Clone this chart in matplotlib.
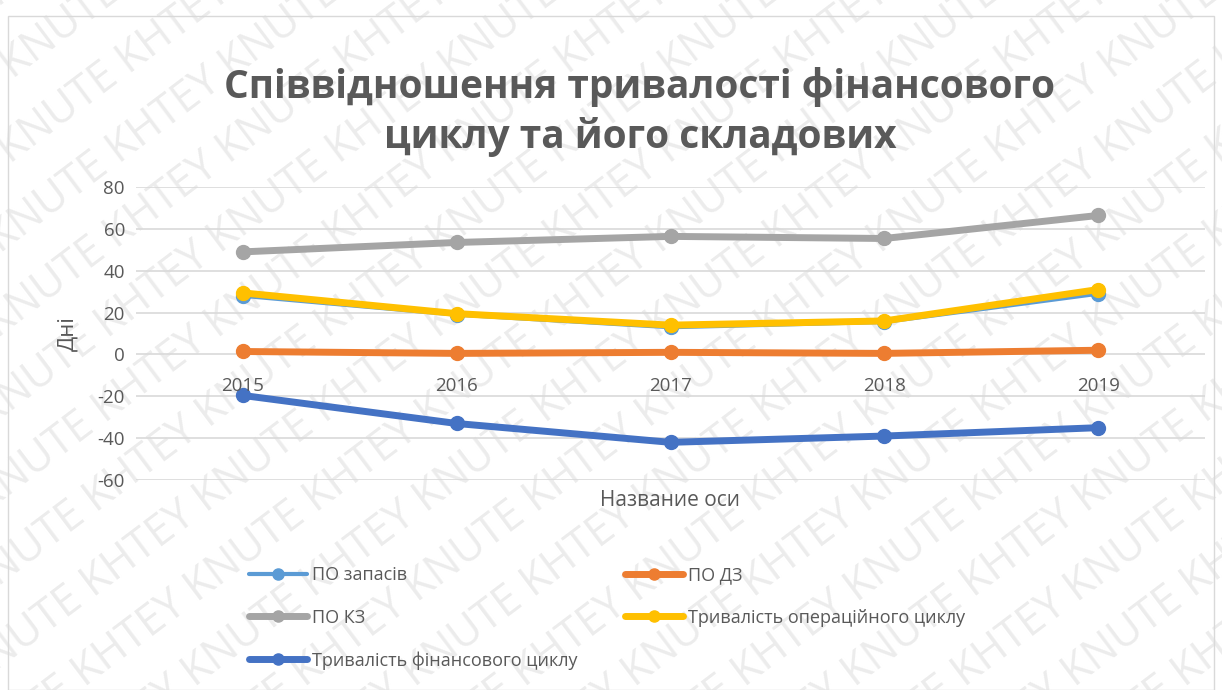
import matplotlib
matplotlib.use("Agg")
import matplotlib.pyplot as plt
import numpy as np

years = ["2015", "2016", "2017", "2018", "2019"]
po_zapasiv = [28, 19, 13, 15.5, 29]
po_dz = [1.4, 0.5, 1, 0.5, 2]
po_kz = [49, 53.5, 56.4, 55.4, 66.4]
oper_cycle = [29.4, 19.5, 14, 16, 31]
fin_cycle = [-19.6, -33, -42, -39, -35]

series = [
    ("ПО запасів", po_zapasiv, "#5b9bd5", 3.0),
    ("ПО ДЗ", po_dz, "#ed7d31", 5.0),
    ("ПО КЗ", po_kz, "#a5a5a5", 5.0),
    ("Тривалість операційного циклу", oper_cycle, "#ffc000", 5.0),
    ("Тривалість фінансового циклу", fin_cycle, "#4472c4", 5.0),
]

plt.rcParams['font.family'] = ['Open Sans', 'Noto Sans', 'DejaVu Sans']
plt.rcParams['axes.unicode_minus'] = False
text_color = "#595959"

fig = plt.figure(figsize=(12.22, 6.9), dpi=100)

# watermark
for i in range(-10, 18):
    fig.text(i * 0.09 - 0.3, -0.25, ("KNUTE KHTEY " if i % 2 else "KHTEY KNUTE ") * 6,
             rotation=37, rotation_mode="anchor", fontsize=31, color="#ececec",
             ha="left", va="baseline", zorder=0)

# chart border
fig.patches.append(plt.Rectangle((8 / 1222, 0), 1 - 16 / 1222, 1 - 16 / 690,
                                 transform=fig.transFigure, fill=False,
                                 edgecolor="#d9d9d9", linewidth=1, zorder=1))

ax = fig.add_axes([136 / 1222, 1 - 480 / 690, (1205 - 136) / 1222, (480 - 187) / 690])
ax.patch.set_alpha(0)
ax.set_zorder(5)

x = np.arange(len(years))
for name, vals, col, lw in series:
    ax.plot(x, vals, color=col, linewidth=lw, marker="o", markersize=10,
            label=name, zorder=3, solid_capstyle="round")

ax.set_xlim(-0.5, len(years) - 0.5)
ax.set_ylim(-60, 80)
ax.set_yticks(range(-60, 81, 20))
ax.yaxis.grid(True, color="#d9d9d9", linewidth=1.2)
ax.set_axisbelow(True)
for s in ax.spines.values():
    s.set_visible(False)
ax.tick_params(axis="y", length=0, labelsize=13.5, colors=text_color, pad=8)
ax.set_xticks([])
for xi, yr in zip(x, years):
    ax.text(xi, -11, yr, ha="center", va="top", fontsize=13.5, color=text_color)

ax.set_ylabel("Дні", fontsize=16, color=text_color, labelpad=14)
fig.text(670 / 1222, 1 - 500 / 690, "Название оси", ha="center", va="center",
         fontsize=15, color=text_color, zorder=6)

fig.text(640 / 1222, 1 - 112 / 690, "Співвідношення тривалості фінансового\nциклу та його складових",
         ha="center", va="center", fontsize=28, fontweight="bold", color=text_color,
         linespacing=1.3, zorder=6)

handles, labels = ax.get_legend_handles_labels()
order = [0, 2, 4, 1, 3]
leg = fig.legend([handles[i] for i in order], [labels[i] for i in order],
                 loc="upper left", bbox_to_anchor=(233 / 1222, 1 - 550 / 690),
                 ncol=2, frameon=False, fontsize=13, handlelength=3.2, handletextpad=0.3,
                 columnspacing=2.6, labelspacing=1.35, labelcolor=text_color, markerscale=0.8)
leg.set_zorder(6)

fig.savefig("out.png", dpi=100)
